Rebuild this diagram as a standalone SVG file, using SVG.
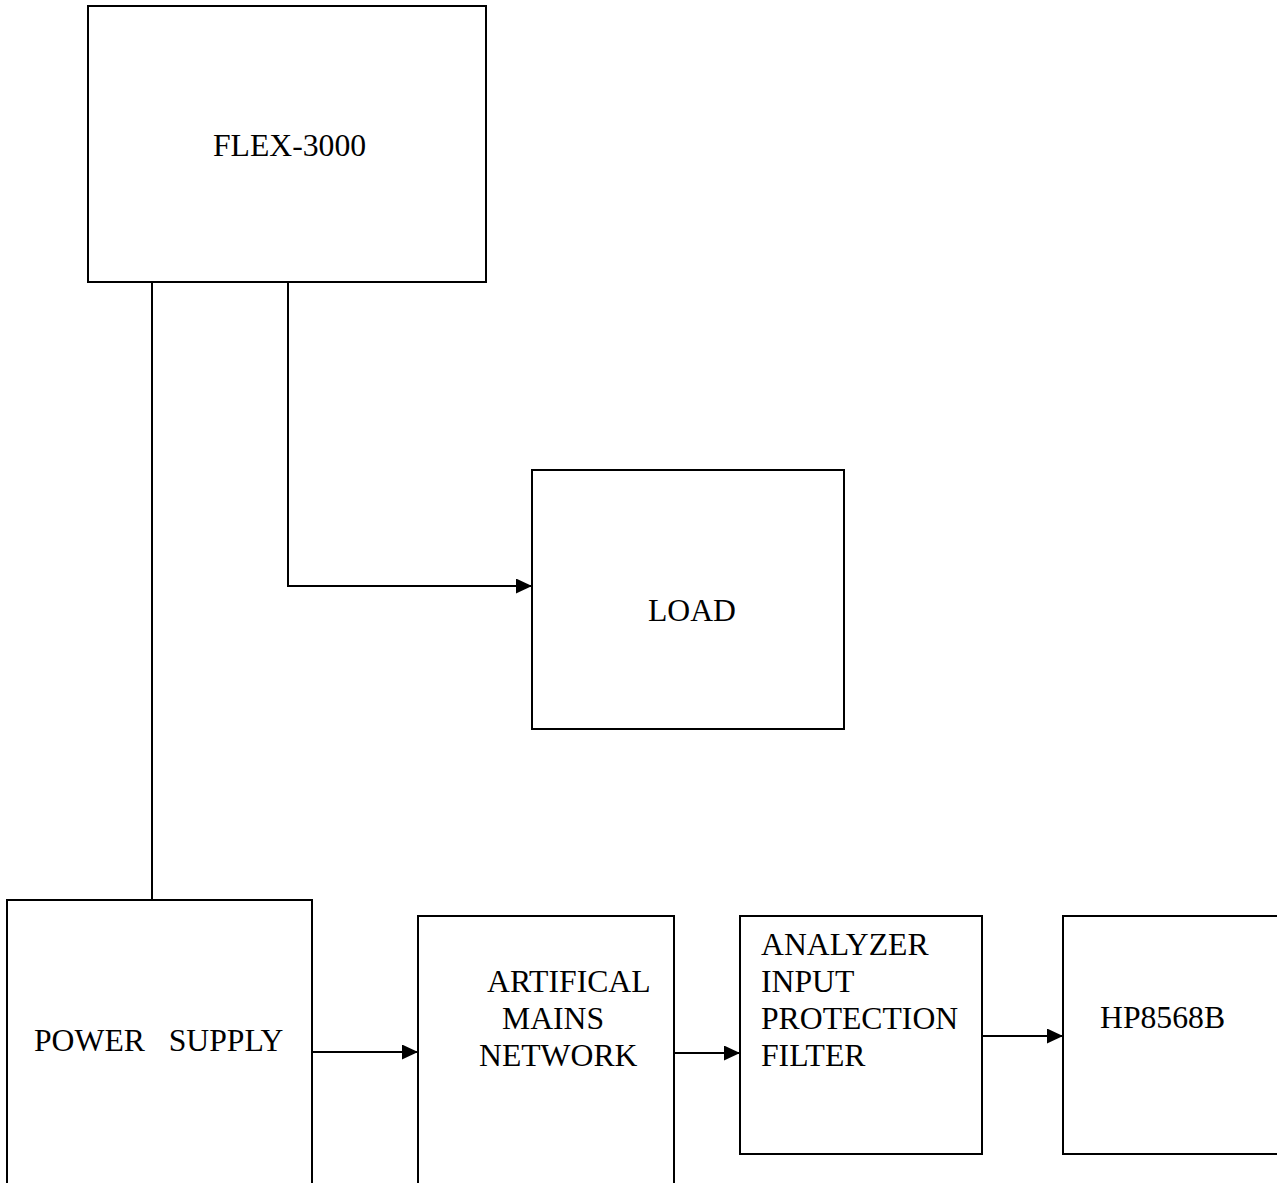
<svg xmlns="http://www.w3.org/2000/svg" width="1277" height="1183" viewBox="0 0 1277 1183">
<style>
.box{fill:#fff;stroke:#000;stroke-width:2}
.lbl{font-family:"Liberation Serif","Times New Roman",serif;font-size:31.7px;fill:#000;white-space:pre}
.wire{fill:none;stroke:#000;stroke-width:2}
</style>
<defs>
<marker id="ah" markerUnits="userSpaceOnUse" markerWidth="18" markerHeight="16" refX="16" refY="7.5" orient="auto">
<path d="M0,0 L16,7.5 L0,15 Z" fill="#000"/>
</marker>
</defs>
<rect width="1277" height="1183" fill="#fff"/>
<g id="connectors">
<path class="wire" d="M152,282 V900"/>
<path class="wire" d="M288,282 V586 H532" marker-end="url(#ah)"/>
<path class="wire" d="M312,1052 H418" marker-end="url(#ah)"/>
<path class="wire" d="M674,1053 H740" marker-end="url(#ah)"/>
<path class="wire" d="M982,1036 H1063" marker-end="url(#ah)"/>
</g>
<g id="flex3000">
<rect class="box" x="88" y="6" width="398" height="276"/>
<text class="lbl" x="213" y="156">FLEX-3000</text>
</g>
<g id="load">
<rect class="box" x="532" y="470" width="312" height="259"/>
<text class="lbl" x="648" y="621">LOAD</text>
</g>
<g id="power-supply">
<rect class="box" x="7" y="900" width="305" height="300"/>
<text class="lbl" x="34" y="1051" xml:space="preserve">POWER   SUPPLY</text>
</g>
<g id="artificial-mains-network">
<rect class="box" x="418" y="916" width="256" height="300"/>
<text class="lbl" x="487" y="992">ARTIFICAL</text>
<text class="lbl" x="502" y="1029">MAINS</text>
<text class="lbl" x="479" y="1066">NETWORK</text>
</g>
<g id="analyzer-filter">
<rect class="box" x="740" y="916" width="242" height="238"/>
<text class="lbl" x="761" y="955">ANALYZER</text>
<text class="lbl" x="761" y="992">INPUT</text>
<text class="lbl" x="761" y="1029">PROTECTION</text>
<text class="lbl" x="761" y="1066">FILTER</text>
</g>
<g id="hp8568b">
<rect class="box" x="1063" y="916" width="240" height="238"/>
<text class="lbl" x="1100" y="1028">HP8568B</text>
</g>
</svg>
